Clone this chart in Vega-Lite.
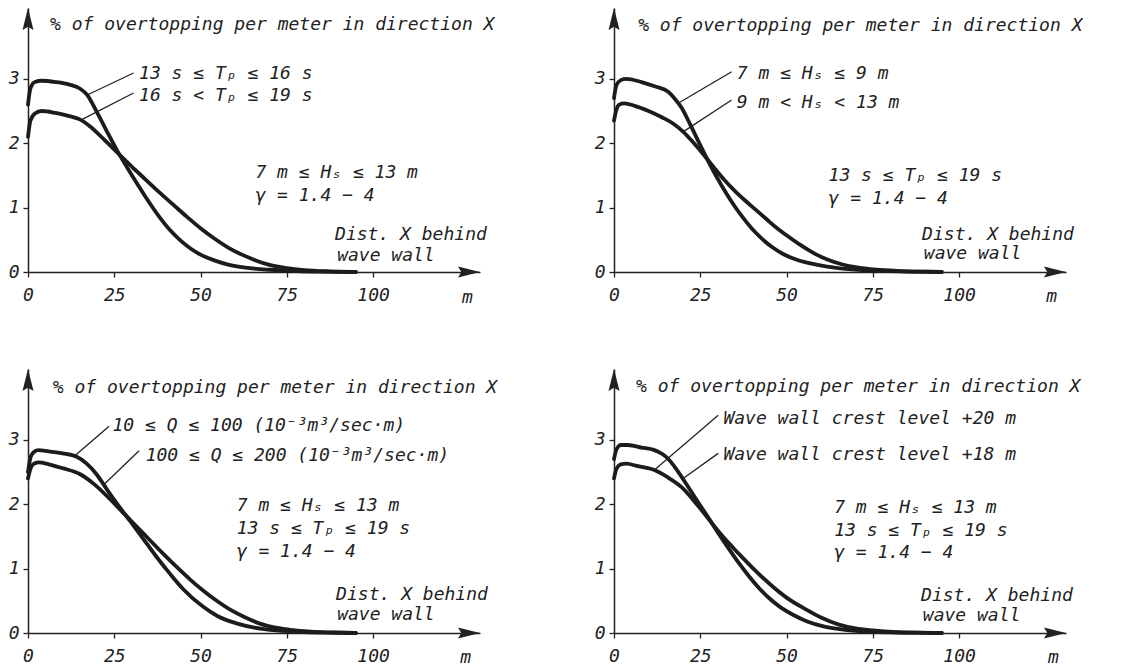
{
  "$schema": "https://vega.github.io/schema/vega-lite/v6.json",
  "background": "white",
  "padding": {"left": 8, "top": 8, "right": 0, "bottom": 0},
  "config": {
    "view": {"stroke": null},
    "axis": {"grid": false, "domainColor": "#222", "domainWidth": 1.5, "tickColor": "#222", "tickWidth": 1.3, "tickSize": 5, "labelFont": "DejaVu Sans Mono", "labelFontStyle": "italic", "labelFontSize": 18, "labelColor": "#222", "labelFlush": false, "labelOverlap": false, "title": null, "format": "d"},
    "axisX": {"labelPadding": 9},
    "axisY": {"labelPadding": 4}
  },
  "datasets": {
    "curves": [
      {"p":1,"s":"a","x":0,"y":2.6},{"p":1,"s":"a","x":0.7,"y":2.85},{"p":1,"s":"a","x":2,"y":2.95},{"p":1,"s":"a","x":4,"y":2.97},{"p":1,"s":"a","x":8,"y":2.95},{"p":1,"s":"a","x":12,"y":2.91},{"p":1,"s":"a","x":15,"y":2.85},{"p":1,"s":"a","x":17,"y":2.76},{"p":1,"s":"a","x":20,"y":2.48},{"p":1,"s":"a","x":23,"y":2.17},{"p":1,"s":"a","x":26,"y":1.87},{"p":1,"s":"a","x":29,"y":1.6},{"p":1,"s":"a","x":32,"y":1.34},{"p":1,"s":"a","x":35,"y":1.09},{"p":1,"s":"a","x":38,"y":0.86},{"p":1,"s":"a","x":41,"y":0.66},{"p":1,"s":"a","x":44,"y":0.5},{"p":1,"s":"a","x":47,"y":0.37},{"p":1,"s":"a","x":50,"y":0.27},{"p":1,"s":"a","x":54,"y":0.18},{"p":1,"s":"a","x":58,"y":0.115},{"p":1,"s":"a","x":63,"y":0.068},{"p":1,"s":"a","x":70,"y":0.035},{"p":1,"s":"a","x":78,"y":0.015},{"p":1,"s":"a","x":86,"y":0.006},{"p":1,"s":"a","x":95,"y":0},
      {"p":1,"s":"b","x":0,"y":2.1},{"p":1,"s":"b","x":0.7,"y":2.35},{"p":1,"s":"b","x":2,"y":2.46},{"p":1,"s":"b","x":4,"y":2.5},{"p":1,"s":"b","x":8,"y":2.47},{"p":1,"s":"b","x":12,"y":2.42},{"p":1,"s":"b","x":15,"y":2.37},{"p":1,"s":"b","x":18,"y":2.26},{"p":1,"s":"b","x":22,"y":2.06},{"p":1,"s":"b","x":26,"y":1.85},{"p":1,"s":"b","x":30,"y":1.64},{"p":1,"s":"b","x":34,"y":1.44},{"p":1,"s":"b","x":38,"y":1.24},{"p":1,"s":"b","x":42,"y":1.05},{"p":1,"s":"b","x":46,"y":0.86},{"p":1,"s":"b","x":50,"y":0.68},{"p":1,"s":"b","x":54,"y":0.52},{"p":1,"s":"b","x":58,"y":0.38},{"p":1,"s":"b","x":62,"y":0.27},{"p":1,"s":"b","x":66,"y":0.18},{"p":1,"s":"b","x":70,"y":0.11},{"p":1,"s":"b","x":75,"y":0.06},{"p":1,"s":"b","x":80,"y":0.03},{"p":1,"s":"b","x":87,"y":0.01},{"p":1,"s":"b","x":95,"y":0},
      {"p":2,"s":"a","x":0,"y":2.7},{"p":2,"s":"a","x":0.7,"y":2.9},{"p":2,"s":"a","x":2,"y":2.98},{"p":2,"s":"a","x":3.5,"y":3.0},{"p":2,"s":"a","x":8,"y":2.95},{"p":2,"s":"a","x":12,"y":2.88},{"p":2,"s":"a","x":15.7,"y":2.8},{"p":2,"s":"a","x":17.5,"y":2.7},{"p":2,"s":"a","x":19.6,"y":2.55},{"p":2,"s":"a","x":22,"y":2.3},{"p":2,"s":"a","x":25,"y":1.97},{"p":2,"s":"a","x":28,"y":1.65},{"p":2,"s":"a","x":31,"y":1.36},{"p":2,"s":"a","x":34,"y":1.1},{"p":2,"s":"a","x":37,"y":0.87},{"p":2,"s":"a","x":40,"y":0.67},{"p":2,"s":"a","x":43,"y":0.51},{"p":2,"s":"a","x":46,"y":0.38},{"p":2,"s":"a","x":49,"y":0.28},{"p":2,"s":"a","x":53,"y":0.19},{"p":2,"s":"a","x":59,"y":0.11},{"p":2,"s":"a","x":65,"y":0.06},{"p":2,"s":"a","x":72,"y":0.03},{"p":2,"s":"a","x":80,"y":0.015},{"p":2,"s":"a","x":88,"y":0.006},{"p":2,"s":"a","x":95,"y":0},
      {"p":2,"s":"b","x":0,"y":2.35},{"p":2,"s":"b","x":0.7,"y":2.52},{"p":2,"s":"b","x":1.5,"y":2.6},{"p":2,"s":"b","x":3,"y":2.62},{"p":2,"s":"b","x":6,"y":2.58},{"p":2,"s":"b","x":10,"y":2.5},{"p":2,"s":"b","x":14,"y":2.4},{"p":2,"s":"b","x":17,"y":2.31},{"p":2,"s":"b","x":20,"y":2.18},{"p":2,"s":"b","x":23,"y":2.01},{"p":2,"s":"b","x":26,"y":1.82},{"p":2,"s":"b","x":29,"y":1.62},{"p":2,"s":"b","x":32,"y":1.43},{"p":2,"s":"b","x":35,"y":1.26},{"p":2,"s":"b","x":38,"y":1.11},{"p":2,"s":"b","x":41,"y":0.97},{"p":2,"s":"b","x":44,"y":0.83},{"p":2,"s":"b","x":47,"y":0.69},{"p":2,"s":"b","x":50,"y":0.57},{"p":2,"s":"b","x":54,"y":0.42},{"p":2,"s":"b","x":58,"y":0.29},{"p":2,"s":"b","x":62,"y":0.19},{"p":2,"s":"b","x":66,"y":0.12},{"p":2,"s":"b","x":70,"y":0.075},{"p":2,"s":"b","x":76,"y":0.035},{"p":2,"s":"b","x":83,"y":0.015},{"p":2,"s":"b","x":90,"y":0.005},{"p":2,"s":"b","x":95,"y":0},
      {"p":3,"s":"a","x":0,"y":2.5},{"p":3,"s":"a","x":0.7,"y":2.72},{"p":3,"s":"a","x":1.5,"y":2.8},{"p":3,"s":"a","x":3,"y":2.84},{"p":3,"s":"a","x":6,"y":2.82},{"p":3,"s":"a","x":10,"y":2.79},{"p":3,"s":"a","x":14,"y":2.74},{"p":3,"s":"a","x":17,"y":2.63},{"p":3,"s":"a","x":19.8,"y":2.47},{"p":3,"s":"a","x":23,"y":2.22},{"p":3,"s":"a","x":26.6,"y":1.95},{"p":3,"s":"a","x":30,"y":1.71},{"p":3,"s":"a","x":33.3,"y":1.47},{"p":3,"s":"a","x":37,"y":1.2},{"p":3,"s":"a","x":41,"y":0.93},{"p":3,"s":"a","x":45,"y":0.68},{"p":3,"s":"a","x":50.7,"y":0.41},{"p":3,"s":"a","x":55,"y":0.26},{"p":3,"s":"a","x":60.4,"y":0.15},{"p":3,"s":"a","x":66,"y":0.08},{"p":3,"s":"a","x":72,"y":0.04},{"p":3,"s":"a","x":80,"y":0.015},{"p":3,"s":"a","x":88,"y":0.005},{"p":3,"s":"a","x":95,"y":0},
      {"p":3,"s":"b","x":0,"y":2.4},{"p":3,"s":"b","x":0.7,"y":2.55},{"p":3,"s":"b","x":1.5,"y":2.62},{"p":3,"s":"b","x":3,"y":2.65},{"p":3,"s":"b","x":6,"y":2.62},{"p":3,"s":"b","x":10,"y":2.56},{"p":3,"s":"b","x":15,"y":2.47},{"p":3,"s":"b","x":19,"y":2.32},{"p":3,"s":"b","x":23,"y":2.12},{"p":3,"s":"b","x":27,"y":1.9},{"p":3,"s":"b","x":31,"y":1.68},{"p":3,"s":"b","x":35,"y":1.46},{"p":3,"s":"b","x":39,"y":1.24},{"p":3,"s":"b","x":43,"y":1.03},{"p":3,"s":"b","x":47,"y":0.83},{"p":3,"s":"b","x":51,"y":0.65},{"p":3,"s":"b","x":55,"y":0.49},{"p":3,"s":"b","x":59,"y":0.35},{"p":3,"s":"b","x":63,"y":0.24},{"p":3,"s":"b","x":67,"y":0.15},{"p":3,"s":"b","x":71,"y":0.09},{"p":3,"s":"b","x":76,"y":0.05},{"p":3,"s":"b","x":82,"y":0.02},{"p":3,"s":"b","x":88,"y":0.008},{"p":3,"s":"b","x":95,"y":0},
      {"p":4,"s":"a","x":0,"y":2.7},{"p":4,"s":"a","x":0.7,"y":2.85},{"p":4,"s":"a","x":2,"y":2.92},{"p":4,"s":"a","x":4,"y":2.92},{"p":4,"s":"a","x":8,"y":2.88},{"p":4,"s":"a","x":11.7,"y":2.84},{"p":4,"s":"a","x":14,"y":2.78},{"p":4,"s":"a","x":15.6,"y":2.71},{"p":4,"s":"a","x":18,"y":2.55},{"p":4,"s":"a","x":21,"y":2.31},{"p":4,"s":"a","x":24,"y":2.06},{"p":4,"s":"a","x":27,"y":1.82},{"p":4,"s":"a","x":30,"y":1.57},{"p":4,"s":"a","x":33,"y":1.33},{"p":4,"s":"a","x":36,"y":1.1},{"p":4,"s":"a","x":39,"y":0.89},{"p":4,"s":"a","x":42,"y":0.7},{"p":4,"s":"a","x":45,"y":0.54},{"p":4,"s":"a","x":48,"y":0.41},{"p":4,"s":"a","x":52,"y":0.28},{"p":4,"s":"a","x":56,"y":0.18},{"p":4,"s":"a","x":61,"y":0.1},{"p":4,"s":"a","x":67,"y":0.05},{"p":4,"s":"a","x":74,"y":0.02},{"p":4,"s":"a","x":82,"y":0.008},{"p":4,"s":"a","x":90,"y":0.003},{"p":4,"s":"a","x":95,"y":0},
      {"p":4,"s":"b","x":0,"y":2.4},{"p":4,"s":"b","x":0.7,"y":2.55},{"p":4,"s":"b","x":2,"y":2.62},{"p":4,"s":"b","x":3.5,"y":2.63},{"p":4,"s":"b","x":7,"y":2.59},{"p":4,"s":"b","x":11.7,"y":2.53},{"p":4,"s":"b","x":15.5,"y":2.42},{"p":4,"s":"b","x":19.5,"y":2.27},{"p":4,"s":"b","x":24,"y":2.0},{"p":4,"s":"b","x":28.3,"y":1.71},{"p":4,"s":"b","x":32,"y":1.47},{"p":4,"s":"b","x":36,"y":1.24},{"p":4,"s":"b","x":40,"y":1.02},{"p":4,"s":"b","x":45.8,"y":0.73},{"p":4,"s":"b","x":50,"y":0.55},{"p":4,"s":"b","x":55.5,"y":0.37},{"p":4,"s":"b","x":60,"y":0.24},{"p":4,"s":"b","x":65.2,"y":0.13},{"p":4,"s":"b","x":70,"y":0.07},{"p":4,"s":"b","x":75,"y":0.04},{"p":4,"s":"b","x":82,"y":0.015},{"p":4,"s":"b","x":88,"y":0.006},{"p":4,"s":"b","x":95,"y":0}
    ],
    "labels": [
      {"p":1,"x":6.4,"y":3.76,"t":"% of overtopping per meter in direction X"},
      {"p":1,"x":32.2,"y":3.0,"t":"13 s ≤ Tₚ ≤ 16 s"},
      {"p":1,"x":32.2,"y":2.66,"t":"16 s < Tₚ ≤ 19 s"},
      {"p":1,"x":65.9,"y":1.46,"t":"7 m ≤ Hₛ ≤ 13 m"},
      {"p":1,"x":65.9,"y":1.1,"t":"γ = 1.4 − 4"},
      {"p":1,"x":89,"y":0.5,"t":"Dist. X behind"},
      {"p":1,"x":89.6,"y":0.17,"t":"wave wall"},
      {"p":1,"x":125.8,"y":-0.48,"t":"m"},
      {"p":2,"x":7,"y":3.75,"t":"% of overtopping per meter in direction X"},
      {"p":2,"x":35.6,"y":3.0,"t":"7 m ≤ Hₛ ≤ 9 m"},
      {"p":2,"x":35.6,"y":2.54,"t":"9 m < Hₛ < 13 m"},
      {"p":2,"x":62.2,"y":1.41,"t":"13 s ≤ Tₚ ≤ 19 s"},
      {"p":2,"x":62.2,"y":1.05,"t":"γ = 1.4 − 4"},
      {"p":2,"x":89.3,"y":0.5,"t":"Dist. X behind"},
      {"p":2,"x":89.8,"y":0.2,"t":"wave wall"},
      {"p":2,"x":125.3,"y":-0.47,"t":"m"},
      {"p":3,"x":7.2,"y":3.73,"t":"% of overtopping per meter in direction X"},
      {"p":3,"x":24.5,"y":3.14,"t":"10 ≤ Q ≤ 100 (10⁻³m³/sec·m)"},
      {"p":3,"x":34.1,"y":2.67,"t":"100 ≤ Q ≤ 200 (10⁻³m³/sec·m)"},
      {"p":3,"x":60.5,"y":1.9,"t":"7 m ≤ Hₛ ≤ 13 m"},
      {"p":3,"x":60.5,"y":1.54,"t":"13 s ≤ Tₚ ≤ 19 s"},
      {"p":3,"x":60.5,"y":1.18,"t":"γ = 1.4 − 4"},
      {"p":3,"x":89.3,"y":0.51,"t":"Dist. X behind"},
      {"p":3,"x":89.6,"y":0.2,"t":"wave wall"},
      {"p":3,"x":125.3,"y":-0.47,"t":"m"},
      {"p":4,"x":6.4,"y":3.74,"t":"% of overtopping per meter in direction X"},
      {"p":4,"x":31.7,"y":3.25,"t":"Wave wall crest level +20 m"},
      {"p":4,"x":31.7,"y":2.68,"t":"Wave wall crest level +18 m"},
      {"p":4,"x":63.8,"y":1.86,"t":"7 m ≤ Hₛ ≤ 13 m"},
      {"p":4,"x":63.8,"y":1.5,"t":"13 s ≤ Tₚ ≤ 19 s"},
      {"p":4,"x":63.8,"y":1.16,"t":"γ = 1.4 − 4"},
      {"p":4,"x":89,"y":0.49,"t":"Dist. X behind"},
      {"p":4,"x":89.5,"y":0.19,"t":"wave wall"},
      {"p":4,"x":125.8,"y":-0.46,"t":"m"}
    ],
    "leaders": [
      {"p":1,"x":30.6,"y":3.09,"x2":17.6,"y2":2.76},
      {"p":1,"x":30.6,"y":2.78,"x2":15.7,"y2":2.37},
      {"p":2,"x":34.1,"y":3.11,"x2":18.6,"y2":2.62},
      {"p":2,"x":34.1,"y":2.67,"x2":20.1,"y2":2.18},
      {"p":3,"x":23.5,"y":3.21,"x2":13.5,"y2":2.75},
      {"p":3,"x":32.2,"y":2.83,"x2":22.1,"y2":2.31},
      {"p":4,"x":30.2,"y":3.38,"x2":11.7,"y2":2.53},
      {"p":4,"x":30.2,"y":2.79,"x2":19.5,"y2":2.38}
    ],
    "arrows": [
      {"d":"up","x":0,"y":4.1},
      {"d":"right","x":131,"y":0}
    ]
  },
  "columns": 2,
  "bounds": "flush",
  "spacing": {"row": 97, "column": 134},
  "concat": [
    {
      "width": 452, "height": 264,
      "layer": [
        {"data": {"name": "curves"}, "transform": [{"filter": "datum.p == 1"}],
         "mark": {"type": "line", "interpolate": "monotone", "strokeWidth": 3.8, "color": "#1c1c1c", "strokeCap": "round"},
         "encoding": {
           "x": {"field": "x", "type": "quantitative", "title": null, "scale": {"domain": [0, 131], "nice": false, "zero": false}, "axis": {"values": [0, 25, 50, 75, 100]}},
           "y": {"field": "y", "type": "quantitative", "title": null, "scale": {"domain": [0, 4.1], "nice": false, "zero": false}, "axis": {"values": [0, 1, 2, 3]}},
           "detail": {"field": "s"}}},
        {"data": {"name": "leaders"}, "transform": [{"filter": "datum.p == 1"}],
         "mark": {"type": "rule", "strokeWidth": 1.3, "color": "#222"},
         "encoding": {"x": {"field": "x", "type": "quantitative", "title": null}, "y": {"field": "y", "type": "quantitative", "title": null}, "x2": {"field": "x2"}, "y2": {"field": "y2"}}},
        {"data": {"name": "labels"}, "transform": [{"filter": "datum.p == 1"}],
         "mark": {"type": "text", "align": "left", "baseline": "alphabetic", "font": "DejaVu Sans Mono", "fontStyle": "italic", "fontSize": 18, "color": "#222"},
         "encoding": {"x": {"field": "x", "type": "quantitative", "title": null}, "y": {"field": "y", "type": "quantitative", "title": null}, "text": {"field": "t"}}},
        {"data": {"name": "arrows"}, "transform": [{"filter": "datum.d == 'up'"}],
         "mark": {"type": "point", "shape": "M0,-1L0.5,1L0,0.7L-0.5,1Z", "size": 484, "filled": true, "opacity": 1, "color": "#222", "yOffset": 11},
         "encoding": {"x": {"field": "x", "type": "quantitative", "title": null}, "y": {"field": "y", "type": "quantitative", "title": null}}},
        {"data": {"name": "arrows"}, "transform": [{"filter": "datum.d == 'right'"}],
         "mark": {"type": "point", "shape": "M0,-1L0.5,1L0,0.7L-0.5,1Z", "size": 484, "filled": true, "opacity": 1, "color": "#222", "angle": 90, "xOffset": -11},
         "encoding": {"x": {"field": "x", "type": "quantitative", "title": null}, "y": {"field": "y", "type": "quantitative", "title": null}}}
      ]
    },
    {
      "width": 452, "height": 264,
      "layer": [
        {"data": {"name": "curves"}, "transform": [{"filter": "datum.p == 2"}],
         "mark": {"type": "line", "interpolate": "monotone", "strokeWidth": 3.8, "color": "#1c1c1c", "strokeCap": "round"},
         "encoding": {
           "x": {"field": "x", "type": "quantitative", "title": null, "scale": {"domain": [0, 131], "nice": false, "zero": false}, "axis": {"values": [0, 25, 50, 75, 100]}},
           "y": {"field": "y", "type": "quantitative", "title": null, "scale": {"domain": [0, 4.1], "nice": false, "zero": false}, "axis": {"values": [0, 1, 2, 3]}},
           "detail": {"field": "s"}}},
        {"data": {"name": "leaders"}, "transform": [{"filter": "datum.p == 2"}],
         "mark": {"type": "rule", "strokeWidth": 1.3, "color": "#222"},
         "encoding": {"x": {"field": "x", "type": "quantitative", "title": null}, "y": {"field": "y", "type": "quantitative", "title": null}, "x2": {"field": "x2"}, "y2": {"field": "y2"}}},
        {"data": {"name": "labels"}, "transform": [{"filter": "datum.p == 2"}],
         "mark": {"type": "text", "align": "left", "baseline": "alphabetic", "font": "DejaVu Sans Mono", "fontStyle": "italic", "fontSize": 18, "color": "#222"},
         "encoding": {"x": {"field": "x", "type": "quantitative", "title": null}, "y": {"field": "y", "type": "quantitative", "title": null}, "text": {"field": "t"}}},
        {"data": {"name": "arrows"}, "transform": [{"filter": "datum.d == 'up'"}],
         "mark": {"type": "point", "shape": "M0,-1L0.5,1L0,0.7L-0.5,1Z", "size": 484, "filled": true, "opacity": 1, "color": "#222", "yOffset": 11},
         "encoding": {"x": {"field": "x", "type": "quantitative", "title": null}, "y": {"field": "y", "type": "quantitative", "title": null}}},
        {"data": {"name": "arrows"}, "transform": [{"filter": "datum.d == 'right'"}],
         "mark": {"type": "point", "shape": "M0,-1L0.5,1L0,0.7L-0.5,1Z", "size": 484, "filled": true, "opacity": 1, "color": "#222", "angle": 90, "xOffset": -11},
         "encoding": {"x": {"field": "x", "type": "quantitative", "title": null}, "y": {"field": "y", "type": "quantitative", "title": null}}}
      ]
    },
    {
      "width": 452, "height": 264,
      "layer": [
        {"data": {"name": "curves"}, "transform": [{"filter": "datum.p == 3"}],
         "mark": {"type": "line", "interpolate": "monotone", "strokeWidth": 3.8, "color": "#1c1c1c", "strokeCap": "round"},
         "encoding": {
           "x": {"field": "x", "type": "quantitative", "title": null, "scale": {"domain": [0, 131], "nice": false, "zero": false}, "axis": {"values": [0, 25, 50, 75, 100]}},
           "y": {"field": "y", "type": "quantitative", "title": null, "scale": {"domain": [0, 4.1], "nice": false, "zero": false}, "axis": {"values": [0, 1, 2, 3]}},
           "detail": {"field": "s"}}},
        {"data": {"name": "leaders"}, "transform": [{"filter": "datum.p == 3"}],
         "mark": {"type": "rule", "strokeWidth": 1.3, "color": "#222"},
         "encoding": {"x": {"field": "x", "type": "quantitative", "title": null}, "y": {"field": "y", "type": "quantitative", "title": null}, "x2": {"field": "x2"}, "y2": {"field": "y2"}}},
        {"data": {"name": "labels"}, "transform": [{"filter": "datum.p == 3"}],
         "mark": {"type": "text", "align": "left", "baseline": "alphabetic", "font": "DejaVu Sans Mono", "fontStyle": "italic", "fontSize": 18, "color": "#222"},
         "encoding": {"x": {"field": "x", "type": "quantitative", "title": null}, "y": {"field": "y", "type": "quantitative", "title": null}, "text": {"field": "t"}}},
        {"data": {"name": "arrows"}, "transform": [{"filter": "datum.d == 'up'"}],
         "mark": {"type": "point", "shape": "M0,-1L0.5,1L0,0.7L-0.5,1Z", "size": 484, "filled": true, "opacity": 1, "color": "#222", "yOffset": 11},
         "encoding": {"x": {"field": "x", "type": "quantitative", "title": null}, "y": {"field": "y", "type": "quantitative", "title": null}}},
        {"data": {"name": "arrows"}, "transform": [{"filter": "datum.d == 'right'"}],
         "mark": {"type": "point", "shape": "M0,-1L0.5,1L0,0.7L-0.5,1Z", "size": 484, "filled": true, "opacity": 1, "color": "#222", "angle": 90, "xOffset": -11},
         "encoding": {"x": {"field": "x", "type": "quantitative", "title": null}, "y": {"field": "y", "type": "quantitative", "title": null}}}
      ]
    },
    {
      "width": 452, "height": 264,
      "layer": [
        {"data": {"name": "curves"}, "transform": [{"filter": "datum.p == 4"}],
         "mark": {"type": "line", "interpolate": "monotone", "strokeWidth": 3.8, "color": "#1c1c1c", "strokeCap": "round"},
         "encoding": {
           "x": {"field": "x", "type": "quantitative", "title": null, "scale": {"domain": [0, 131], "nice": false, "zero": false}, "axis": {"values": [0, 25, 50, 75, 100]}},
           "y": {"field": "y", "type": "quantitative", "title": null, "scale": {"domain": [0, 4.1], "nice": false, "zero": false}, "axis": {"values": [0, 1, 2, 3]}},
           "detail": {"field": "s"}}},
        {"data": {"name": "leaders"}, "transform": [{"filter": "datum.p == 4"}],
         "mark": {"type": "rule", "strokeWidth": 1.3, "color": "#222"},
         "encoding": {"x": {"field": "x", "type": "quantitative", "title": null}, "y": {"field": "y", "type": "quantitative", "title": null}, "x2": {"field": "x2"}, "y2": {"field": "y2"}}},
        {"data": {"name": "labels"}, "transform": [{"filter": "datum.p == 4"}],
         "mark": {"type": "text", "align": "left", "baseline": "alphabetic", "font": "DejaVu Sans Mono", "fontStyle": "italic", "fontSize": 18, "color": "#222"},
         "encoding": {"x": {"field": "x", "type": "quantitative", "title": null}, "y": {"field": "y", "type": "quantitative", "title": null}, "text": {"field": "t"}}},
        {"data": {"name": "arrows"}, "transform": [{"filter": "datum.d == 'up'"}],
         "mark": {"type": "point", "shape": "M0,-1L0.5,1L0,0.7L-0.5,1Z", "size": 484, "filled": true, "opacity": 1, "color": "#222", "yOffset": 11},
         "encoding": {"x": {"field": "x", "type": "quantitative", "title": null}, "y": {"field": "y", "type": "quantitative", "title": null}}},
        {"data": {"name": "arrows"}, "transform": [{"filter": "datum.d == 'right'"}],
         "mark": {"type": "point", "shape": "M0,-1L0.5,1L0,0.7L-0.5,1Z", "size": 484, "filled": true, "opacity": 1, "color": "#222", "angle": 90, "xOffset": -11},
         "encoding": {"x": {"field": "x", "type": "quantitative", "title": null}, "y": {"field": "y", "type": "quantitative", "title": null}}}
      ]
    }
  ]
}
